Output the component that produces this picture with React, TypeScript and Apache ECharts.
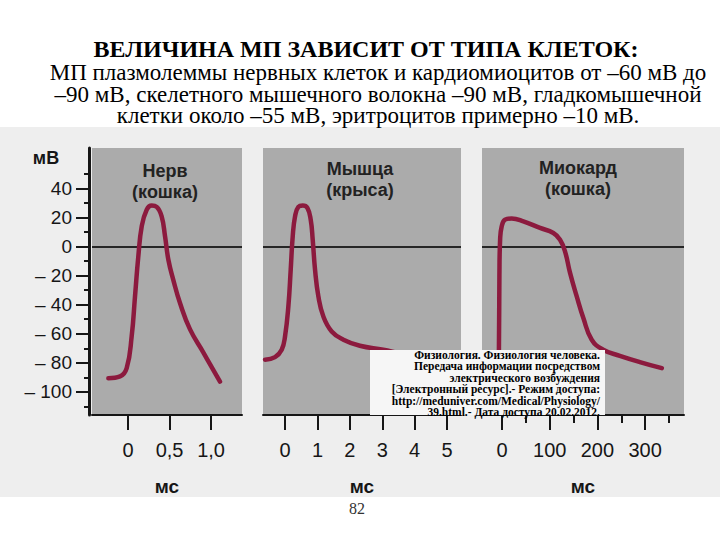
import React, { useEffect, useRef } from "react";
import * as echarts from "echarts";

// ---- Data ----
const titleLines = [
  "ВЕЛИЧИНА МП ЗАВИСИТ ОТ ТИПА КЛЕТОК:",
  "МП плазмолеммы нервных клеток и кардиомиоцитов от –60 мВ до",
  "–90 мВ, скелетного мышечного волокна –90 мВ, гладкомышечной",
  "клетки около –55 мВ, эритроцитов примерно –10 мВ.",
];
const panelTitles = ["Нерв\n(кошка)", "Мышца\n(крыса)", "Миокард\n(кошка)"];
const citation = [
  "Физиология. Физиология человека.",
  "Передача информации посредством",
  "электрического возбуждения",
  "[Электронный ресурс].- Режим доступа:",
  "http://meduniver.com/Medical/Physiology/",
  "39.html.- Дата доступа 20.02.2012.",
];

// Nerve (cat), time in ms, potential in mV
const nerveTime = [-0.237, -0.096, -0.016, 0.044, 0.084, 0.124, 0.165, 0.225, 0.285, 0.345, 0.405, 0.446, 0.486, 0.546, 0.627, 0.747, 0.908, 1.108];
const nerveMv = [-90.6, -89.4, -83.7, -61.8, -34.3, -6.7, 14, 25.5, 28.3, 27.4, 20.9, 7.1, -9, -23, -39, -57, -73, -93];

// Skeletal muscle (rat)
const muscleTime = [-0.617, -0.309, -0.103, 0, 0.103, 0.175, 0.237, 0.309, 0.412, 0.545, 0.689, 0.792, 0.854, 0.926, 1.029, 1.183, 1.44, 1.8, 2.31, 3.03, 3.65, 4.5, 5.2];
const muscleMv = [-77.9, -76.1, -71, -61.8, -41.1, -15.9, 7.1, 20.9, 27.4, 28.3, 26.7, 18.6, 4.8, -15.9, -34.3, -48.1, -58.4, -64.1, -68.3, -71, -73.8, -76, -78];

// Myocardium (cat)
const heartTime = [-30, -8, -6.5, -5.5, -4, -0.7, 6.3, 20.3, 44.7, 79.7, 107.6, 121.6, 132, 142.6, 156.6, 170.5, 188, 212, 247, 289, 335];
const heartMv = [-86, -86, -70, -20, 5, 14, 18.6, 19.5, 17.5, 12.9, 9.4, 4.8, -3.2, -18.1, -34.3, -49.2, -64.1, -71, -75.2, -79.5, -83.7];

const yTicks = [40, 20, 0, -20, -40, -60, -80, -100];
const yMinorTicks = [50, 30, 10, -10, -30, -50, -70, -90, -110];
const nerveTicks = [0, 0.5, 1.0];
const muscleTicks = [0, 1, 2, 3, 4, 5];
const heartTicks = [0, 100, 200, 300];
const heartMinorTicks = [50, 150, 250, 350];

const xRanges = [
  [-0.434, 1.373],
  [-0.68, 5.43],
  [-42, 381.5],
];
const yRange = [-116, 68];

// ---- Styles ----
const SANS = "'Liberation Sans', Arial, sans-serif";
const SERIF = "'Liberation Serif', 'Times New Roman', serif";
const INK = "#161616";
const CURVE = "#8c1a3e";
const PANEL = "#ababab";

const zip = (a: number[], b: number[]) => a.map((t, i) => [t, b[i]]);

export default function App() {
  const ref = useRef<HTMLDivElement>(null);

  useEffect(() => {
    document.body.style.margin = "0";
    const chart = echarts.init(ref.current as HTMLDivElement, null, { renderer: "svg" });

    const grids = [
      { left: 92, top: 148, width: 150, height: 267 },
      { left: 263, top: 148, width: 198, height: 267 },
      { left: 482, top: 148, width: 202, height: 267 },
    ].map((g) => ({ ...g, show: true, backgroundColor: PANEL, borderWidth: 0 }));

    const hiddenY = (gi: number) => ({
      type: "value",
      gridIndex: gi,
      min: yRange[0],
      max: yRange[1],
      show: false,
      splitLine: { show: false },
      axisLine: { onZero: false },
    });

    const mainX = (gi: number, ticks: number[], fmt: (v: number) => string) => ({
      type: "value",
      gridIndex: gi,
      min: xRanges[gi][0],
      max: xRanges[gi][1],
      position: "bottom",
      splitLine: { show: false },
      axisLine: { show: true, onZero: false, lineStyle: { color: INK, width: 2 } },
      axisTick: { show: true, customValues: ticks, length: 15, lineStyle: { color: INK, width: 2 } },
      axisLabel: {
        show: true,
        customValues: ticks,
        formatter: (v: number) => fmt(v),
        fontFamily: SANS,
        fontSize: 20,
        color: INK,
        margin: 25,
      },
      name: "мс",
      nameLocation: "middle",
      nameGap: 62,
      nameTextStyle: { fontFamily: SANS, fontSize: 19, fontWeight: "bold", color: INK },
    });

    const curve = (xi: number, yi: number, data: number[][]) => ({
      type: "line",
      xAxisIndex: xi,
      yAxisIndex: yi,
      data,
      smooth: 0.45,
      showSymbol: false,
      symbol: "none",
      silent: true,
      z: 5,
      lineStyle: { color: CURVE, width: 4.5, cap: "round", join: "round" },
      markLine: {
        silent: true,
        symbol: ["none", "none"],
        label: { show: false },
        lineStyle: { color: "#262626", width: 2, type: "solid" },
        data: [{ yAxis: 0 }],
        z: 3,
      },
    });

    const txt = (
      text: string,
      family: string,
      size: number,
      weight: string,
      align: string,
      vAlign: string,
      fill: string,
      lineHeight?: number
    ) => ({
      text,
      font: `${weight} ${size}px ${family}`,
      fill,
      textAlign: align,
      textVerticalAlign: vAlign,
      ...(lineHeight ? { lineHeight } : {}),
    });

    const option = {
      animation: false,
      backgroundColor: "#ffffff",
      grid: grids,
      xAxis: [
        mainX(0, nerveTicks, (v) => (v === 0 ? "0" : v.toFixed(1).replace(".", ","))),
        mainX(1, muscleTicks, (v) => String(v)),
        mainX(2, heartTicks, (v) => String(v)),
        {
          type: "value",
          gridIndex: 2,
          min: xRanges[2][0],
          max: xRanges[2][1],
          position: "bottom",
          splitLine: { show: false },
          axisLine: { show: false, onZero: false },
          axisTick: { show: true, customValues: heartMinorTicks, length: 8, lineStyle: { color: INK, width: 2 } },
          axisLabel: { show: false },
        },
      ],
      yAxis: [
        {
          type: "value",
          gridIndex: 0,
          min: yRange[0],
          max: yRange[1],
          position: "left",
          offset: 3,
          splitLine: { show: false },
          axisLine: { show: true, onZero: false, lineStyle: { color: INK, width: 3 } },
          axisTick: { show: true, customValues: yTicks, length: 13, lineStyle: { color: INK, width: 2 } },
          axisLabel: {
            show: true,
            customValues: yTicks,
            formatter: (v: number) => (v < 0 ? "\u2013 " + Math.abs(v) : String(v)),
            fontFamily: SANS,
            fontSize: 19,
            color: INK,
            margin: 17,
          },
        },
        {
          type: "value",
          gridIndex: 0,
          min: yRange[0],
          max: yRange[1],
          position: "left",
          offset: 3,
          splitLine: { show: false },
          axisLine: { show: false, onZero: false },
          axisTick: { show: true, customValues: yMinorTicks, length: 5, lineStyle: { color: INK, width: 2 } },
          axisLabel: { show: false },
        },
        hiddenY(1),
        hiddenY(2),
      ],
      series: [
        curve(0, 0, zip(nerveTime, nerveMv)),
        curve(1, 2, zip(muscleTime, muscleMv)),
        curve(2, 3, zip(heartTime, heartMv)),
      ],
      graphic: [
        {
          type: "rect",
          z: -100,
          silent: true,
          shape: { x: 0, y: 127, width: 720, height: 370 },
          style: { fill: "#eeeeee" },
        },
        {
          type: "text",
          x: 366,
          y: 49,
          style: txt(titleLines[0], SERIF, 24, "bold", "center", "middle", "#000"),
        },
        {
          type: "text",
          x: 378,
          y: 62,
          style: txt(titleLines.slice(1).join("\n"), SERIF, 23, "normal", "center", "top", "#000", 21.5),
        },
        ...[
          [165, 160],
          [360, 158],
          [578, 157],
        ].map(([cx, ty], i) => ({
          type: "text",
          x: cx,
          y: ty,
          z: 20,
          style: txt(panelTitles[i], SANS, 18, "bold", "center", "top", "#222", 21),
        })),
        {
          type: "text",
          x: 46,
          y: 158,
          style: txt("мВ", SANS, 18, "bold", "center", "middle", INK),
        },
        {
          type: "group",
          z: 100,
          children: [
            {
              type: "rect",
              z: 100,
              shape: { x: 370, y: 350, width: 235, height: 65 },
              style: { fill: "#f6f6f6" },
            },
            {
              type: "text",
              z: 101,
              x: 600,
              y: 349,
              style: txt(citation.join("\n"), SERIF, 11.5, "bold", "right", "top", "#000", 11.5),
            },
          ],
        },
        {
          type: "text",
          x: 357,
          y: 508,
          style: txt("82", SERIF, 16, "normal", "center", "middle", "#333"),
        },
      ],
    };

    chart.setOption(option as any);
    return () => chart.dispose();
  }, []);

  return (
    <div
      ref={ref}
      style={{ position: "fixed", left: 0, top: 0, width: 720, height: 540, background: "#fff" }}
    />
  );
}
